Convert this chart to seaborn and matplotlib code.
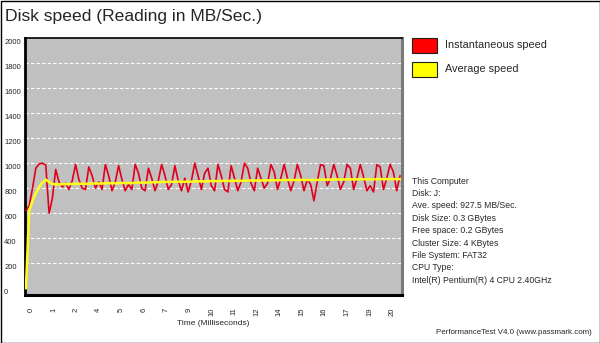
import numpy as np
import pandas as pd
import matplotlib
matplotlib.use("Agg")
import matplotlib.pyplot as plt
from matplotlib.patches import Rectangle
from matplotlib.transforms import ScaledTranslation
import seaborn as sns

sns.set_style("white")
plt.rcParams["font.family"] = ["Liberation Sans", "DejaVu Sans"]

# Instantaneous read speed samples (MB/Sec.)
instant_speed = [
    620, 660, 800, 960, 995, 1000, 985, 600, 720, 950,
    850, 810, 840, 790, 860, 990, 870, 800, 790, 970,
    900, 800, 850, 790, 990, 900, 780, 850, 980, 870,
    780, 830, 790, 990, 920, 800, 780, 960, 880, 780,
    860, 990, 900, 790, 830, 980, 860, 780, 880, 770,
    860, 1000, 900, 790, 920, 960, 820, 780, 990, 900,
    790, 770, 980, 880, 780, 850, 1000, 960, 840, 780,
    960, 880, 800, 840, 990, 930, 790, 880, 990, 880,
    780, 860, 990, 900, 780, 870, 830, 700, 850, 990,
    980, 820, 880, 990, 900, 790, 850, 990, 960, 790,
    880, 990, 890, 780, 820, 770, 990, 970, 790, 880,
    990, 930, 780, 900,
]

# Running average read speed (MB/Sec.)
average_speed = [
    0, 620, 700, 760, 810, 845, 868, 850, 835, 830, 832, 832, 833, 833,
    834, 835, 836, 836, 835, 836, 838, 838, 837, 838, 839, 840, 840, 839,
    840, 842, 842,
    842, 841, 843, 845, 845, 844, 846, 848, 847, 848,
    850, 851, 850, 851, 852, 852, 851, 852, 853, 852,
    854, 855, 855, 854, 856, 857, 857, 856, 858, 859,
    858, 858, 860, 860, 859, 860, 862, 862, 861, 862,
    862, 862, 863, 864, 864, 863, 864, 865, 866, 866,
    865, 866, 867, 867, 866, 866, 865, 866, 868, 869,
    868, 869, 870, 870, 869, 870, 871, 871, 870, 871, 872, 872,
    871, 871, 871, 872, 873, 872, 872, 873, 873, 872, 873,
]

time_tick_labels = ["0", "1", "2", "4", "5", "6", "7", "9", "10", "11",
                    "12", "14", "15", "16", "17", "19", "20"]
y_ticks = [0, 200, 400, 600, 800, 1000, 1200, 1400, 1600, 1800, 2000]

info_lines = [
    "This Computer",
    "Disk: J:",
    "Ave. speed: 927.5 MB/Sec.",
    "Disk Size: 0.3 GBytes",
    "Free space: 0.2 GBytes",
    "Cluster Size: 4 KBytes",
    "File System: FAT32",
    "CPU Type:",
    "Intel(R) Pentium(R) 4 CPU 2.40GHz",
]

n = len(instant_speed)
time_ms = np.linspace(-0.28, 20.44, n)
df = pd.DataFrame({"time": time_ms, "instant": instant_speed,
                   "average": average_speed})

W, H = 600, 343
fig = plt.figure(figsize=(W / 100, H / 100), dpi=100)
fig.patch.set_facecolor("white")

ax = fig.add_axes([25 / W, 1 - 295 / H, 377 / W, 257 / H])
ax.set_facecolor("#c0c0c0")

sns.lineplot(data=df, x="time", y="instant", ax=ax, color="#e0001b",
             linewidth=1.2, zorder=3, legend=False)
sns.lineplot(data=df, x="time", y="average", ax=ax, color="#ffff1a",
             linewidth=1.8, zorder=4, legend=False)

ax.set_xlim(-0.33, 20.55)
ax.set_ylim(-53, 2000)

# dashed white grid lines
for v in y_ticks[1:-1]:
    ax.axhline(v, color="white", linewidth=0.8, linestyle=(0, (3, 2)), zorder=1)

ax.set_yticks(y_ticks)
ax.set_yticklabels([str(v) for v in y_ticks], fontsize=5.5)
ax.tick_params(axis="y", length=0, pad=15)
shift_down = ScaledTranslation(0, -3 / 100, fig.dpi_scale_trans)
for lab in ax.get_yticklabels():
    lab.set_ha("left")
    lab.set_transform(lab.get_transform() + shift_down)

ax.set_xticks(np.linspace(0, 20, len(time_tick_labels)))
ax.set_xticklabels(time_tick_labels, rotation=90, fontsize=5.5)
ax.tick_params(axis="x", length=0, pad=9)
ax.set_xlabel("Time (Milliseconds)", fontsize=6, labelpad=3)
ax.set_ylabel("")

for side in ["left", "bottom", "top"]:
    ax.spines[side].set_color("black")
ax.spines["left"].set_linewidth(2)
ax.spines["bottom"].set_linewidth(2.2)
ax.spines["top"].set_linewidth(1.2)
ax.spines["right"].set_color("#7a7a7a")
ax.spines["right"].set_linewidth(2.2)

fig.text(5 / W, 1 - 16 / H, "Disk speed (Reading in MB/Sec.)",
         fontsize=12.6, va="center", ha="left")

# legend swatches
for (y0, color, label) in [(38, "#ff0000", "Instantaneous speed"),
                           (62, "#ffff00", "Average speed")]:
    fig.patches.append(Rectangle((412 / W, 1 - (y0 + 15) / H), 25 / W, 15 / H,
                                 transform=fig.transFigure, facecolor=color,
                                 edgecolor="#202020", linewidth=0.8))
    fig.text(445 / W, 1 - (y0 + 7.5) / H, label, fontsize=7.8,
             va="center", ha="left")

for i, line in enumerate(info_lines):
    fig.text(412 / W, 1 - (181 + i * 12.4) / H, line, fontsize=6.2,
             va="center", ha="left")

fig.text(592 / W, 1 - 332 / H, "PerformanceTest V4.0 (www.passmark.com)",
         fontsize=5.7, va="center", ha="right")

# outer frame
fig.patches.append(Rectangle((0.5 / W, 0.5 / H), 1 - 1 / W, 1 - 1 / H,
                             transform=fig.transFigure, fill=False,
                             edgecolor="black", linewidth=1))

fig.savefig("out.png", dpi=100)
